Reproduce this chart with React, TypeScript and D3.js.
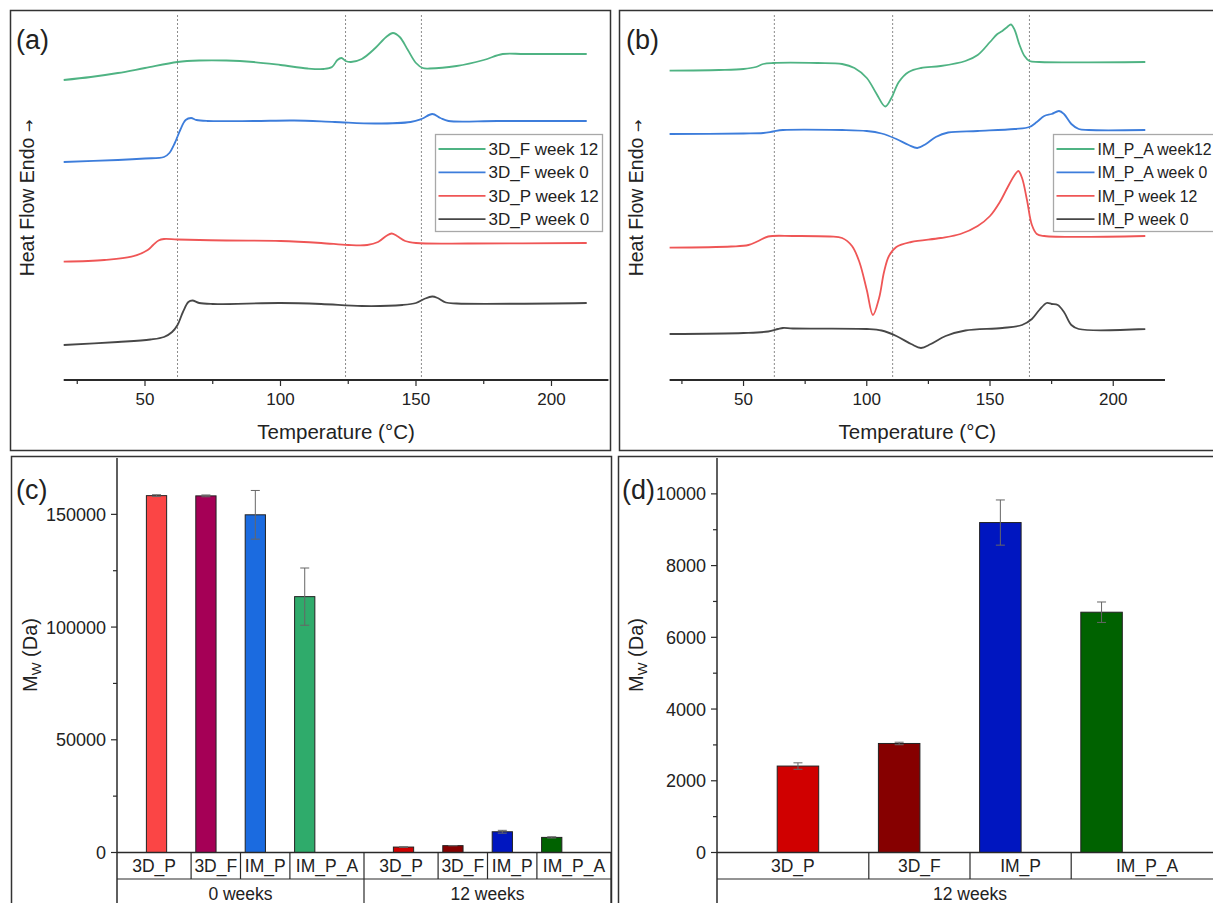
import React from 'react';
import * as d3 from 'd3';

const FONT = '"Liberation Sans", Arial, sans-serif';

// DSC traces: [temperature °C, heat flow (a.u., stacked offset)]
const dsc3DF12 = [[20,30.0],[30,30.3],[40,30.7],[50,31.2],[62,31.8],[70,31.95],[80,31.95],[90,31.8],[100,31.5],[110,31.15],[116,31.1],[119,31.3],[121,32.0],[122.5,32.2],[124,31.9],[126,31.8],[130,32.1],[135,33.2],[139,34.3],[141.5,34.7],[144,34.3],[147,33.0],[150,31.7],[152.5,31.2],[155,31.15],[165,31.4],[175,32.0],[182,32.6],[190,32.6],[213,32.6]];
const dsc3DF0 = [[20,21.8],[40,22.0],[50,22.15],[57,22.3],[59,22.7],[61,23.7],[63,25.0],[65,26.0],[67,26.2],[69,26.0],[73,25.9],[90,25.9],[105,25.95],[120,25.8],[135,25.65],[148,25.8],[152,26.1],[156,26.6],[159,26.2],[162,25.9],[180,25.9],[213,25.9]];
const dsc3DP12 = [[20,11.83],[35,12.0],[45,12.33],[51,13.0],[53,13.5],[55,13.95],[57,14.1],[62,14.05],[80,13.95],[100,13.9],[115,13.7],[125,13.5],[132,13.5],[136,13.8],[139,14.4],[141,14.65],[143,14.4],[146,13.9],[150,13.7],[170,13.65],[213,13.7]];
const dsc3DP0 = [[20,3.5],[40,3.8],[52,4.05],[57,4.3],[60,4.8],[62,5.5],[64,6.8],[66,7.8],[67.5,7.95],[70,7.7],[75,7.6],[100,7.7],[115,7.6],[130,7.4],[145,7.5],[150,7.7],[153,8.1],[156,8.35],[158,8.2],[161,7.75],[165,7.65],[213,7.7]];

const dscIMPA12 = [[20,30.93],[40,31.0],[50,31.1],[55,31.3],[58,31.6],[62,31.7],[80,31.7],[90,31.6],[95,31.2],[100,30.2],[104,28.6],[107.5,27.35],[110,28.2],[113,29.8],[117,30.8],[122,31.2],[130,31.4],[140,31.9],[145,32.5],[150,33.8],[153,34.6],[155,34.9],[157,35.3],[158.5,35.55],[160,35.0],[162,33.5],[164,32.4],[166,31.9],[170,31.8],[213,31.8]];
const dscIMPA0 = [[20,24.6],[50,24.65],[58,24.7],[62,24.85],[66,25.0],[90,25.0],[100,24.9],[106,24.65],[112,24.1],[117,23.5],[120.5,23.2],[124,23.6],[128,24.3],[133,24.75],[145,24.9],[160,25.1],[166,25.3],[169,25.8],[172,26.4],[175,26.6],[178,26.9],[180,26.6],[183,25.6],[186,25.1],[190,25.0],[213,25.0]];
const dscIMP12 = [[20,13.23],[45,13.35],[52,13.5],[56,13.9],[60,14.35],[70,14.4],[85,14.35],[90,14.2],[94,13.4],[97,11.8],[100,9.0],[102.5,6.5],[105,8.2],[107,10.8],[109,12.4],[112,13.3],[118,13.8],[130,14.2],[138,14.6],[145,15.4],[150,16.4],[154,17.8],[157,19.2],[160,20.5],[161.5,20.9],[163,20.2],[165,18.0],[167,15.5],[169,14.6],[172,14.4],[213,14.4]];
const dscIMP0 = [[20,4.6],[50,4.7],[60,4.85],[64,5.1],[66,5.2],[70,5.15],[100,5.1],[106,4.95],[112,4.4],[118,3.6],[122,3.2],[126,3.6],[132,4.4],[140,4.95],[155,5.2],[163,5.5],[167,6.1],[170,7.0],[173,7.7],[175,7.6],[177.5,7.5],[180,6.8],[183,5.5],[186,5.1],[213,5.1]];

const namesA = ['3D_F week 12', '3D_F week 0', '3D_P week 12', '3D_P week 0'];
const namesB = ['IM_P_A week12', 'IM_P_A week 0', 'IM_P week 12', 'IM_P week 0'];
const curveColors = ['#4fb383', '#3d7ddb', '#ef5656', '#474747'];
const guidesA = [62, 124, 152];
const guidesB = [62.5, 110.5, 166];
const tempMajor = [50, 100, 150, 200];
const tempMinor = [25, 75, 125, 175];

// Mw bars
const samples = ['3D_P', '3D_F', 'IM_P', 'IM_P_A'];
const groups = ['0 weeks', '12 weeks'];
const mwWeek0 = [158300, 158200, 149800, 113500];
const mwWeek0Err = [400, 400, 10800, 12700];
const mwWeek12 = [2410, 3040, 9200, 6700];
const mwWeek12Err = [90, 35, 630, 285];
const colorsWeek0 = ['#fb4545', '#a50056', '#1b6be0', '#2fab6b'];
const colorsWeek12 = ['#d00000', '#860000', '#0016c0', '#006200'];
const ticksC = [0, 50000, 100000, 150000];
const minorC = [25000, 75000, 125000];
const ticksD = [0, 2000, 4000, 6000, 8000, 10000];
const minorD = [1000, 3000, 5000, 7000, 9000];

function DscPanel({ frameX, range, series, names, guides, legendX, legendW, lineLen, legendFont, letter, letterX, titleX }) {
  const x = d3.scaleLinear().domain([20, 221]).range(range);
  const y = d3.scaleLinear().domain([0, 37]).range([380, 10]);
  const line = d3.line<number[]>().x(d => x(d[0])).y(d => y(d[1])).curve(d3.curveCatmullRom.alpha(0.5));
  const mid = (range[0] + range[1]) / 2;
  return (
    <g>
      <rect x={frameX} y={10.5} width={600} height={440} fill="none" stroke="#333" strokeWidth={1.5} />
      {guides.map(t => (
        <line key={t} x1={x(t)} x2={x(t)} y1={15} y2={380} stroke="#8c8c8c" strokeDasharray="2,2" />
      ))}
      {series.map((s, i) => (
        <path key={i} d={line(s)} fill="none" stroke={curveColors[i]} strokeWidth={1.8} />
      ))}
      <line x1={range[0]} x2={range[1]} y1={380} y2={380} stroke="#2a2a2a" strokeWidth={1.8} />
      {tempMajor.map(t => (
        <g key={t}>
          <line x1={x(t)} x2={x(t)} y1={380} y2={386} stroke="#2a2a2a" strokeWidth={1.2} />
          <text x={x(t)} y={405} textAnchor="middle" fontSize={17} fill="#222">{t}</text>
        </g>
      ))}
      {tempMinor.map(t => (
        <line key={t} x1={x(t)} x2={x(t)} y1={380} y2={384} stroke="#2a2a2a" strokeWidth={1.2} />
      ))}
      <text x={mid} y={439} textAnchor="middle" fontSize={20.5} fill="#222">Temperature (°C)</text>
      <text transform={`translate(${titleX},198) rotate(-90)`} textAnchor="middle" fontSize={19.5} fill="#222">
        Heat Flow Endo <tspan fontFamily='"DejaVu Sans", sans-serif' fontSize={15} fill="#222">→</tspan>
      </text>
      <text x={letterX} y={49} fontSize={27} fill="#222">{letter}</text>
      <rect x={legendX} y={134.5} width={legendW} height={97} fill="#fff" stroke="#a8a8a8" strokeWidth={1.3} />
      {names.map((n, i) => (
        <g key={n}>
          <line x1={legendX + 3} x2={legendX + 3 + lineLen} y1={149 + i * 23.4} y2={149 + i * 23.4} stroke={curveColors[i]} strokeWidth={1.8} />
          <text x={legendX + lineLen + 6} y={155 + i * 23.4} fontSize={legendFont} fill="#222">{n}</text>
        </g>
      ))}
    </g>
  );
}

function BarPanel({ frameX, axisX, unit, groupList, values, errs, colors, ticks, minor, yMax, letter, letterX, titleX }) {
  const span = groupList.length * 5;
  const x = d3.scaleLinear().domain([0.2, 0.2 + span]).range([axisX, axisX + span * unit]);
  const y = d3.scaleLinear().domain([0, yMax]).range([852.5, 458]);
  const y0 = y(0);
  const bw = 0.41 * unit;
  const bars = groupList.flatMap((g, gi) =>
    samples.map((s, i) => ({
      key: `${g}-${s}`,
      pos: 1 + i + gi * 5,
      v: values[gi][i],
      e: errs[gi][i],
      c: colors[gi][i],
    }))
  );
  return (
    <g>
      <rect x={frameX} y={456.5} width={600} height={470} fill="none" stroke="#333" strokeWidth={1.5} />
      {bars.map(b => (
        <g key={b.key}>
          <rect x={x(b.pos) - bw / 2} y={y(b.v)} width={bw} height={y0 - y(b.v)} fill={b.c} stroke="#222" strokeWidth={1} />
          <line x1={x(b.pos)} x2={x(b.pos)} y1={y(b.v + b.e)} y2={y(b.v - b.e)} stroke="#666" strokeWidth={1} />
          <line x1={x(b.pos) - 4.5} x2={x(b.pos) + 4.5} y1={y(b.v + b.e)} y2={y(b.v + b.e)} stroke="#666" strokeWidth={1} />
          <line x1={x(b.pos) - 4.5} x2={x(b.pos) + 4.5} y1={y(b.v - b.e)} y2={y(b.v - b.e)} stroke="#666" strokeWidth={1} />
        </g>
      ))}
      {/* y axis */}
      <line x1={axisX} x2={axisX} y1={458} y2={903} stroke="#2a2a2a" strokeWidth={1.5} />
      {ticks.map(t => (
        <g key={t}>
          <line x1={axisX - 6} x2={axisX} y1={y(t)} y2={y(t)} stroke="#2a2a2a" strokeWidth={1.2} />
          <text x={axisX - 11} y={y(t) + 6.5} textAnchor="end" fontSize={18} fill="#222">{t}</text>
        </g>
      ))}
      {minor.map(t => (
        <line key={t} x1={axisX - 4} x2={axisX} y1={y(t)} y2={y(t)} stroke="#2a2a2a" strokeWidth={1.2} />
      ))}
      {/* category label table */}
      <line x1={axisX} x2={axisX + span * unit} y1={y0} y2={y0} stroke="#2a2a2a" strokeWidth={1.5} />
      <line x1={axisX} x2={axisX + span * unit} y1={879} y2={879} stroke="#2a2a2a" strokeWidth={1.2} />
      {groupList.map((g, gi) => {
        const pos = samples.map((_, i) => 1 + i + gi * 5);
        const edges = [0.2 + gi * 5, ...pos.slice(0, -1).map(p => p + 0.7), 5.2 + gi * 5];
        return (
          <g key={g}>
            {edges.slice(1, -1).map(e => (
              <line key={e} x1={x(e)} x2={x(e)} y1={y0} y2={879} stroke="#2a2a2a" strokeWidth={1.2} />
            ))}
            <line x1={x(edges[edges.length - 1])} x2={x(edges[edges.length - 1])} y1={y0} y2={903} stroke="#2a2a2a" strokeWidth={1.2} />
            {samples.map((s, i) => (
              <text key={s} x={(x(edges[i]) + x(edges[i + 1])) / 2} y={872} textAnchor="middle" fontSize={17.5} fill="#222">{s}</text>
            ))}
            <text x={(x(edges[0]) + x(edges[edges.length - 1])) / 2} y={900} textAnchor="middle" fontSize={17.5} fill="#222">{g}</text>
          </g>
        );
      })}
      <text transform={`translate(${titleX},655) rotate(-90)`} textAnchor="middle" fontSize={20} fill="#222">
        M<tspan fontSize={13.5} dy={4}>W</tspan><tspan dy={-4}> (Da)</tspan>
      </text>
      <text x={letterX} y={499} fontSize={27} fill="#222">{letter}</text>
    </g>
  );
}

export default function App() {
  return (
    <svg width={1213} height={903} style={{ position: 'absolute', left: 0, top: 0, background: '#fff' }} fontFamily={FONT}>
      <rect width={1213} height={903} fill="#fff" />
      <DscPanel frameX={10.5} range={[63.7, 608.4]} series={[dsc3DF12, dsc3DF0, dsc3DP12, dsc3DP0]} names={namesA}
        guides={guidesA} legendX={435.5} legendW={167} lineLen={47} legendFont={17} letter="(a)" letterX={16} titleX={34} />
      <DscPanel frameX={619.5} range={[669.6, 1165]} series={[dscIMPA12, dscIMPA0, dscIMP12, dscIMP0]} names={namesB}
        guides={guidesB} legendX={1053.5} legendW={200} lineLen={38} legendFont={15.8} letter="(b)" letterX={626} titleX={643} />
      <BarPanel frameX={11.5} axisX={117} unit={49.4} groupList={groups} values={[mwWeek0, mwWeek12]} errs={[mwWeek0Err, mwWeek12Err]}
        colors={[colorsWeek0, colorsWeek12]} ticks={ticksC} minor={minorC} yMax={175000} letter="(c)" letterX={16} titleX={36.5} />
      <BarPanel frameX={618.5} axisX={717} unit={101.2} groupList={[groups[1]]} values={[mwWeek12]} errs={[mwWeek12Err]}
        colors={[colorsWeek12]} ticks={ticksD} minor={minorD} yMax={11000} letter="(d)" letterX={622} titleX={643} />
    </svg>
  );
}
